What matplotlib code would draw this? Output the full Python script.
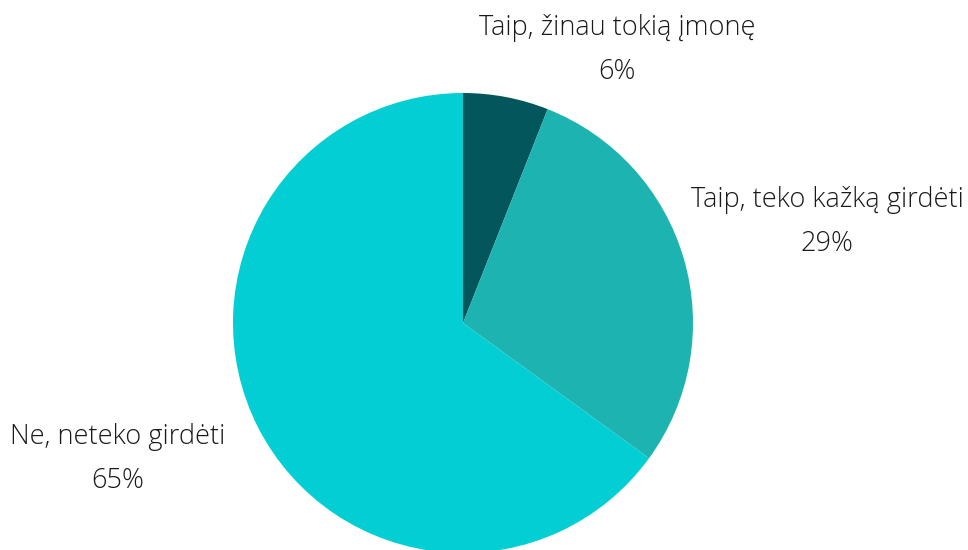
import matplotlib.pyplot as plt

labels = ['Taip, žinau tokią įmonę', 'Taip, teko kažką girdėti', 'Ne, neteko girdėti']
values = [6, 29, 65]
colors = ['#03575C', '#1DB3B0', '#02CED3']

# label anchor points (pixels, y from top) for name and percent lines
label_pos = [(617, 28, 72), (827, 200, 244), (118, 437, 481)]

W, H = 968, 550
fig = plt.figure(figsize=(W / 100, H / 100), dpi=100)
ax = fig.add_axes([0, 0, 1, 1])

ax.pie(values, colors=colors, startangle=90, counterclock=False,
       center=(463, H - 323), radius=230, frame=True,
       wedgeprops=dict(linewidth=0))
ax.set_xlim(0, W)
ax.set_ylim(0, H)
ax.set_aspect('equal')
ax.axis('off')

font = dict(family=['Open Sans', 'DejaVu Sans'], fontweight='light',
            fontsize=19.5, color='#1a1a1a', ha='center', va='center')
for name, v, (x, y1, y2) in zip(labels, values, label_pos):
    ax.text(x, H - y1, name, **font)
    ax.text(x, H - y2, f'{v}%', **font)

fig.savefig('out.png', dpi=100)
